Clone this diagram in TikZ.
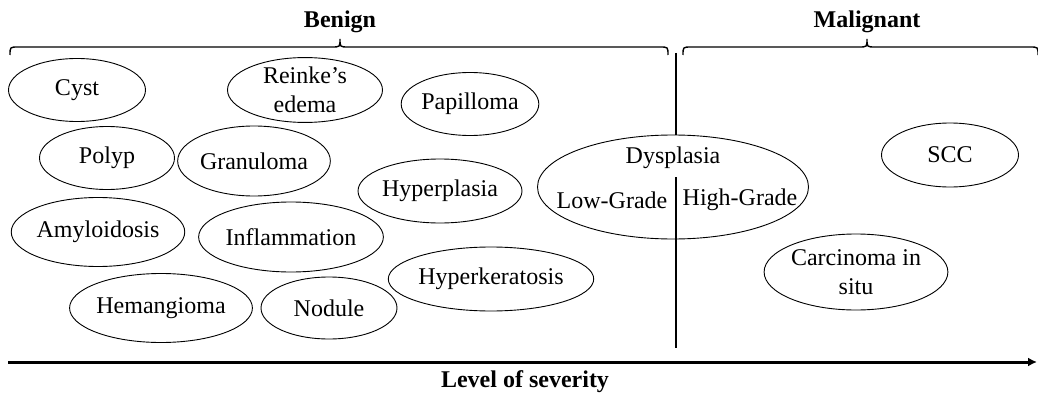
\documentclass[tikz,border=0pt]{standalone}
\usepackage{fontspec}
\setmainfont{Liberation Serif}
\usetikzlibrary{shapes.geometric,arrows.meta}
\begin{document}
\begin{tikzpicture}[x=1pt,y=-1pt,
  lesion/.style={draw, ellipse, line width=0.9pt, inner sep=0pt, align=center,
    font=\fontsize{24}{29}\selectfont},
  header/.style={font=\bfseries\fontsize{24}{28}\selectfont},
  bracket/.style={line width=1.4pt},
  divider/.style={line width=2.4pt},
  axis/.style={line width=3pt, -{Latex[length=9pt,width=9pt]}}]
\useasboundingbox (0,0) rectangle (1038,396);

% group headers and their braces
\node[header] (benign) at (340,22) {Benign};
\node[header] (malignant) at (867,22) {Malignant};
\draw[bracket] (10,55) .. controls (10,47) .. (18,47) -- (332,47)
  .. controls (340,47) .. (340,39) .. controls (340,47) .. (348,47)
  -- (660,47) .. controls (668,47) .. (668,55);
\draw[bracket] (683,55) .. controls (683,47) .. (691,47) -- (859,47)
  .. controls (867,47) .. (867,39) .. controls (867,47) .. (875,47)
  -- (1030,47) .. controls (1038,47) .. (1038,55);

% benign lesions
\node[lesion, minimum width=137, minimum height=63] (cyst) at (77,90) {Cyst};
\node[lesion, minimum width=155, minimum height=63] (reinke) at (305,90) {Reinke's\\edema};
\node[lesion, minimum width=136, minimum height=63] (papilloma) at (470,104) {Papilloma};
\node[lesion, minimum width=135, minimum height=63] (polyp) at (107,158) {Polyp};
\node[lesion, minimum width=136, minimum height=70] (granuloma) at (254,161) {Granuloma};
\node[lesion, minimum width=134, minimum height=64] (hyperplasia) at (440,191) {Hyperplasia};
\node[lesion, minimum width=163, minimum height=69] (amyloidosis) at (98,232) {Amyloidosis};
\node[lesion, minimum width=168, minimum height=70] (inflammation) at (291,237) {Inflammation};
\node[lesion, minimum width=171, minimum height=64] (hyperkeratosis) at (491,279) {Hyperkeratosis};
\node[lesion, minimum width=156, minimum height=69] (hemangioma) at (161,308) {Hemangioma};
\node[lesion, minimum width=136, minimum height=62] (nodule) at (329,308) {Nodule};

% dysplasia spans the border
\node[lesion, minimum width=271, minimum height=104] (dysplasia) at (673,187) {};
\node[lesion, draw=none] (dystitle) at (673,158) {Dysplasia};
\node[lesion, draw=none] (lowgrade) at (612,200) {Low-Grade};
\node[lesion, draw=none] (highgrade) at (740,200) {High-Grade};

% malignant lesions
\node[lesion, minimum width=137, minimum height=64] (scc) at (950,155) {SCC};
\node[lesion, minimum width=158, minimum height=76] (cis) at (856,272) {Carcinoma in\\situ};

% benign / malignant divider
\coordinate (divtop) at (676,53);
\coordinate (divmid) at (676,177);
\coordinate (divbot) at (676,348);
\draw[divider] (divtop) -- (divtop |- dysplasia.north);
\draw[divider] (divmid) -- (divbot);

% severity axis
\coordinate (axstart) at (8,362);
\coordinate (axend) at (1037,362);
\draw[axis] (axstart) -- (axend);
\node[header] (severity) at (525,382) {Level of severity};
\end{tikzpicture}
\end{document}
